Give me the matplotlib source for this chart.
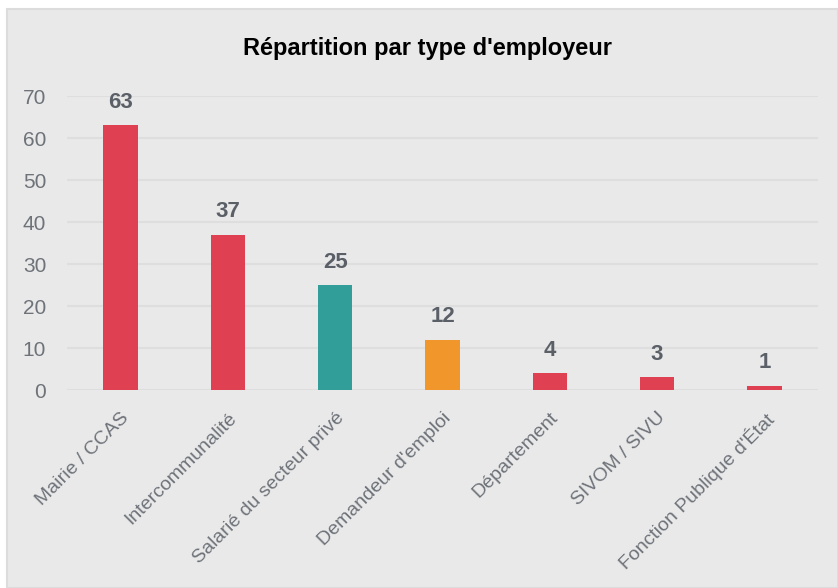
import matplotlib
matplotlib.use("Agg")
import matplotlib.pyplot as plt
from matplotlib.patches import Rectangle

categories = ["Mairie / CCAS", "Intercommunalité", "Salarié du secteur privé",
              "Demandeur d'emploi", "Département", "SIVOM / SIVU",
              "Fonction Publique d'État"]
values = [63, 37, 25, 12, 4, 3, 1]
colors = ["#E04152", "#E04152", "#329E9A", "#F0962A", "#E04152", "#E04152", "#E04152"]
yticks = [0, 10, 20, 30, 40, 50, 60, 70]
title = "Répartition par type d'employeur"

plt.rcParams['font.family'] = ['Liberation Sans', 'DejaVu Sans']

fig = plt.figure(figsize=(8.38, 5.88), dpi=100)
fig.patch.set_facecolor("white")
panel = Rectangle((6.5 / 838, 0), 1 - 6.5 / 838, (588 - 8.5) / 588,
                  transform=fig.transFigure, facecolor="#E9E9E9",
                  edgecolor="#DCDCDC", linewidth=1.5, zorder=-10)
fig.patches.append(panel)

ax = fig.add_axes([67 / 838, 1 - 390 / 588, (818 - 67) / 838, (390 - 96) / 588])
ax.set_facecolor("none")
x = list(range(len(categories)))
ax.bar(x, values, width=0.32, color=colors, zorder=3)
ax.set_xlim(-0.5, len(categories) - 0.5)
ax.set_ylim(0, 70)
ax.set_yticks(yticks)
ax.yaxis.grid(True, color="#DEDEDE", linewidth=1.5, zorder=0)
ax.set_axisbelow(True)
for s in ax.spines.values():
    s.set_visible(False)
ax.tick_params(axis="both", length=0, colors="#6E737A", labelsize=15)
ax.tick_params(axis="y", pad=15)
ax.set_xticks(x)
ax.set_xticklabels(categories, rotation=45, ha="right", va="top",
                   rotation_mode="anchor", fontsize=14, color="#6E737A")
ax.tick_params(axis="x", pad=14)

for xi, v in zip(x, values):
    ax.annotate(str(v), (xi, v), xytext=(0, 9), textcoords="offset points",
                ha="center", va="bottom", fontsize=16, fontweight="bold",
                color="#5B6068")

fig.text(427 / 838, 1 - 48 / 588, title, ha="center", va="center",
         fontsize=17, fontweight="bold", color="black")

fig.savefig("out.png", dpi=100, facecolor=fig.get_facecolor())
